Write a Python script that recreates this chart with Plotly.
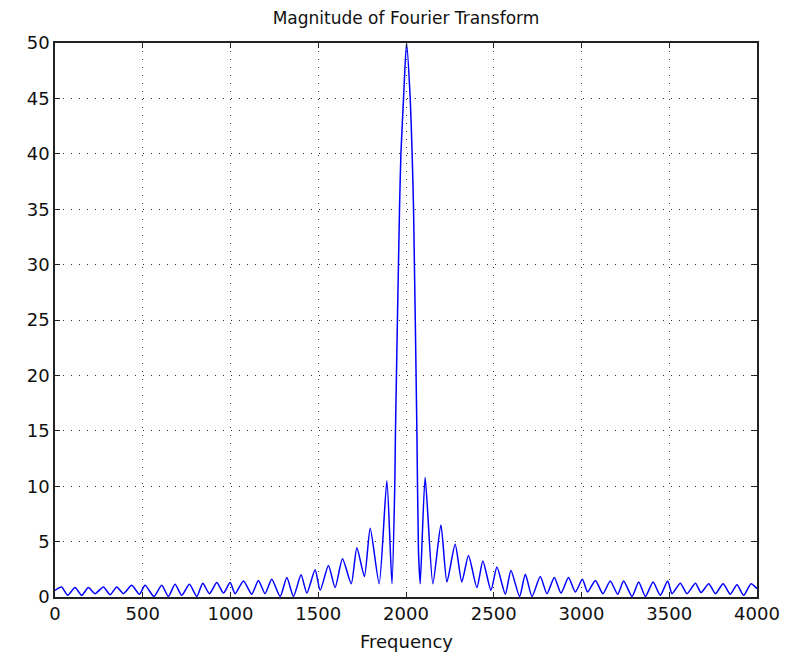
import plotly.graph_objects as go

# Frequency (Hz) and magnitude (lobe peaks / minima)
freq = [
    0, 38, 72, 114, 152, 190, 228, 276, 314, 352, 390, 437, 481, 513, 564, 608,
    646, 684, 722, 766, 808, 842, 880, 922, 960, 998, 1026, 1074, 1121, 1159,
    1197, 1235, 1283, 1321, 1359, 1402, 1435, 1482, 1511, 1558, 1596, 1638,
    1688, 1720, 1763, 1796, 1847, 1891, 1920,
    1936, 1940, 1963, 1971, 1986, 2003, 2024, 2035, 2043, 2062, 2071, 2081,
    2109, 2153, 2199, 2233, 2280, 2318, 2356, 2404, 2438, 2484, 2518, 2566,
    2598, 2647, 2680, 2718, 2765, 2803, 2845, 2883, 2926, 2965, 3005, 3035,
    3079, 3122, 3164, 3206, 3240, 3288, 3326, 3364, 3408, 3449, 3491, 3516,
    3563, 3601, 3649, 3681, 3725, 3763, 3807, 3848, 3886, 3924, 3966, 4000,
]
magnitude = [
    0.6, 0.9, 0.15, 0.85, 0.15, 0.85, 0.3, 0.9, 0.2, 0.9, 0.3, 1.05, 0.25, 1.05, 0.05, 1.05,
    0.05, 1.15, 0.15, 1.15, 0.05, 1.25, 0.3, 1.3, 0.35, 1.3, 0.3, 1.45, 0.25, 1.5,
    0.3, 1.6, 0.05, 1.75, 0.05, 2.0, 0.35, 2.45, 0.6, 2.85, 0.85, 3.45,
    1.2, 4.45, 1.85, 6.2, 1.2, 10.5, 1.2,
    10.0, 15.0, 35.0, 40.0, 45.0, 50.0, 45.0, 40.0, 35.0, 15.0, 4.2, 1.2,
    10.8, 1.2, 6.5, 1.35, 4.75, 1.35, 3.75, 0.85, 3.25, 0.6, 2.7, 0.25,
    2.4, 0.05, 2.05, 0.05, 1.85, 0.3, 1.75, 0.35, 1.75, 0.45, 1.6, 0.45,
    1.5, 0.3, 1.45, 0.25, 1.45, 0.05, 1.35, 0.05, 1.35, 0.15, 1.45, 0.3,
    1.25, 0.3, 1.25, 0.4, 1.2, 0.3, 1.2, 0.25, 1.1, 0.15, 1.2, 0.75,
]

x_ticks = [0, 500, 1000, 1500, 2000, 2500, 3000, 3500, 4000]
y_ticks = [0, 5, 10, 15, 20, 25, 30, 35, 40, 45, 50]

title_text = "Magnitude of Fourier Transform"
xlabel_text = "Frequency"

FONT = "DejaVu Sans"

fig = go.Figure()
fig.add_trace(go.Scatter(
    x=freq, y=magnitude, mode="lines",
    line=dict(color="#0000ff", width=1.5, shape="spline", smoothing=0.6),
    showlegend=False, hoverinfo="skip",
))

axis_common = dict(
    showline=True, linecolor="#222222", linewidth=1.5, mirror="ticks",
    ticks="inside", ticklen=5, tickwidth=1, tickcolor="#222222",
    showgrid=True, gridcolor="#333333", gridwidth=1, griddash="1px,7px",
    zeroline=False, automargin=False,
    tickfont=dict(family=FONT, size=18, color="#111111"),
)

fig.update_xaxes(range=[0, 4000], tickvals=x_ticks, ticktext=[str(v) for v in x_ticks],
                 **axis_common)
fig.update_yaxes(range=[0, 50], tickvals=y_ticks, ticktext=[str(v) for v in y_ticks],
                 **axis_common)

fig.add_annotation(text=xlabel_text, x=0.5, xref="paper", xanchor="center",
                   y=-(641 - 597) / 554, yref="paper", yanchor="middle",
                   showarrow=False, font=dict(family=FONT, size=18, color="#111111"))

fig.update_layout(
    width=792, height=655,
    margin=dict(l=55, r=35, t=43, b=58),
    paper_bgcolor="white", plot_bgcolor="white",
    title=dict(text=title_text, font=dict(family=FONT, size=17, color="#111111"),
               x=(55 + 757) / 2 / 792, xanchor="center", xref="container",
               y=1 - 18 / 655, yanchor="middle", yref="container"),
)

fig.write_html("out.html")
